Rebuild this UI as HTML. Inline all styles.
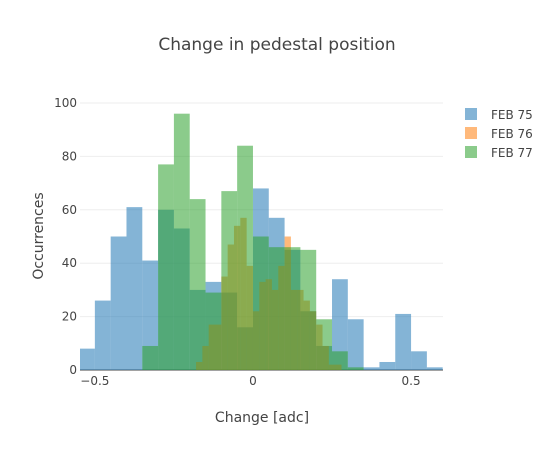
<!DOCTYPE html>
<html><head><meta charset="utf-8"><style>
body{margin:0;background:#fff;font-family:"DejaVu Sans","Liberation Sans",sans-serif}
</style></head><body>
<svg width="554" height="450" id="c" xmlns="http://www.w3.org/2000/svg" font-family="DejaVu Sans, Liberation Sans, sans-serif">
<rect width="554" height="450" fill="#fff"/>
<text x="277" y="50" text-anchor="middle" font-size="17" fill="#444">Change in pedestal position</text>
<text x="262" y="422" text-anchor="middle" font-size="14" fill="#444">Change [adc]</text>
<text transform="translate(43,236) rotate(-90)" text-anchor="middle" font-size="14" fill="#444">Occurrences</text>
<g id="grid"></g><g id="bars"></g><g id="ticks"></g>
<g>
<rect x="465" y="108" width="12" height="12" fill="#1f77b4" fill-opacity="0.55"/>
<text x="491" y="119" font-size="12" fill="#444">FEB 75</text>
<rect x="465" y="127" width="12" height="12" fill="#ff7f0e" fill-opacity="0.55"/>
<text x="491" y="138" font-size="12" fill="#444">FEB 76</text>
<rect x="465" y="146" width="12" height="12" fill="#2ca02c" fill-opacity="0.55"/>
<text x="491" y="157" font-size="12" fill="#444">FEB 77</text>
</g>
</svg>
<script>
const yTicks=[0,20,40,60,80,100];
const xTicks=[-0.5,0,0.5];
const xTickLabels=["−0.5","0","0.5"];
const feb75Start=-0.55, feb75Width=0.05;
const feb75Counts=[8,26,50,61,41,60,53,30,33,29,16,68,57,45,22,9,34,19,1,3,21,7,1];
const feb76Start=-0.18, feb76Width=0.02;
const feb76Counts=[3,9,17,17,35,47,54,57,39,22,33,34,30,39,50,30,30,26,22,17,9,2,2];
const feb77Start=-0.35, feb77Width=0.05;
const feb77Counts=[9,77,96,64,29,67,84,50,46,46,45,19,7,1];
const X0=80,X1=443,Y0=370,Y1=103;
const xMin=-0.547,xMax=0.601,yMax=100;
function sx(v){return X0+(v-xMin)/(xMax-xMin)*(X1-X0);}
function sy(v){return Y0-v/yMax*(Y0-Y1);}
const NS="http://www.w3.org/2000/svg";
const grid=document.getElementById('grid'),bars=document.getElementById('bars'),ticks=document.getElementById('ticks');
yTicks.forEach(t=>{
 const l=document.createElementNS(NS,'line');
 
 
 l.setAttribute('x1',X0);l.setAttribute('x2',X1);l.setAttribute('y1',sy(t));l.setAttribute('y2',sy(t));
 l.setAttribute('stroke',t===0?'#444':'#eee');l.setAttribute('stroke-width',1);
 grid.appendChild(l);
 const tx=document.createElementNS(NS,'text');
 
 
 tx.setAttribute('x',X0-3);tx.setAttribute('y',sy(t)+4);tx.setAttribute('text-anchor','end');
 tx.setAttribute('font-size','12');tx.setAttribute('fill','#444');tx.textContent=t;
 ticks.appendChild(tx);
});
xTicks.forEach((t,i)=>{
 const tx=document.createElementNS(NS,'text');
 
 
 tx.setAttribute('x',sx(t));tx.setAttribute('y',385);tx.setAttribute('text-anchor','middle');
 tx.setAttribute('font-size','12');tx.setAttribute('fill','#444');tx.textContent=xTickLabels[i];
 ticks.appendChild(tx);
});
function drawSeries(start,width,counts,color,name){
 counts.forEach((c,i)=>{
  const a=Math.max(start+i*width,xMin),b=Math.min(start+(i+1)*width,xMax);
  if(b<=a)return;
  const r=document.createElementNS(NS,'rect');
  
  
  r.setAttribute('x',sx(a));r.setAttribute('width',sx(b)-sx(a));
  r.setAttribute('y',sy(c));r.setAttribute('height',sy(0)-sy(c));
  r.setAttribute('fill',color);r.setAttribute('fill-opacity','0.55');
  bars.appendChild(r);
 });
}
drawSeries(feb75Start,feb75Width,feb75Counts,'#1f77b4','bar-feb75');
drawSeries(feb76Start,feb76Width,feb76Counts,'#ff7f0e','bar-feb76');
drawSeries(feb77Start,feb77Width,feb77Counts,'#2ca02c','bar-feb77');
</script>
</body></html>
